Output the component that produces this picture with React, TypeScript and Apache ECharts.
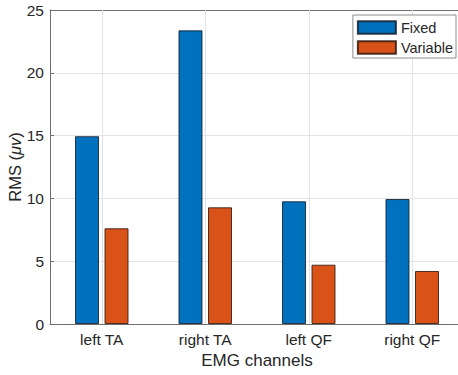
import React, { useEffect, useRef } from "react";
import * as echarts from "echarts";

const categories = ["left TA", "right TA", "left QF", "right QF"];
const fixedValues = [14.95, 23.38, 9.77, 9.95];
const variableValues = [7.62, 9.29, 4.72, 4.22];
const seriesNames = ["Fixed", "Variable"];

const FONT = "'Liberation Sans', Arial, Helvetica, sans-serif";
const AXIS_COLOR = "#6e6e6e";
const TEXT_COLOR = "#262626";
const GRID_COLOR = "#e3e3e3";

export default function App() {
  const ref = useRef<HTMLDivElement>(null);
  useEffect(() => {
    if (!ref.current) return;
    const chart = echarts.init(ref.current, undefined, { renderer: "svg" });
    chart.setOption({
      animation: false,
      textStyle: { fontFamily: FONT },
      grid: { left: 50, top: 10, bottom: 51, width: 414, containLabel: false, outerBoundsMode: "none" },
      legend: {
        orient: "vertical",
        right: 2,
        top: 15,
        padding: [5, 3, 3, 4],
        itemWidth: 38,
        itemHeight: 12.5,
        itemGap: 5,
        icon: "rect",
        borderColor: "#8c8c8c",
        borderWidth: 1,
        backgroundColor: "#ffffff",
        borderRadius: 0,
        textStyle: { fontSize: 14.5, color: TEXT_COLOR, fontFamily: FONT },
        data: seriesNames,
      },
      xAxis: [
        {
          type: "category",
          data: categories,
          position: "bottom",
          name: "EMG channels",
          nameLocation: "middle",
          nameGap: 28,
          nameMoveOverlap: false,
          nameTextStyle: { fontSize: 17, color: TEXT_COLOR, fontFamily: FONT },
          axisLine: { show: true, lineStyle: { color: AXIS_COLOR, width: 1 } },
          axisTick: { show: true, inside: true, alignWithLabel: true, length: 4, lineStyle: { color: AXIS_COLOR } },
          axisLabel: { fontSize: 15.5, color: TEXT_COLOR, margin: 7, fontFamily: FONT },
          splitLine: { show: false },
        },
        {
          type: "category",
          data: categories,
          position: "top",
          axisLine: { show: true, lineStyle: { color: AXIS_COLOR, width: 1 } },
          axisTick: { show: true, inside: true, alignWithLabel: true, length: 4, lineStyle: { color: AXIS_COLOR } },
          axisLabel: { show: false },
          splitLine: { show: false },
        },
      ],
      yAxis: {
        type: "value",
        min: 0,
        max: 25,
        interval: 5,
        name: "{n|RMS (}{i|μv}{n|)}",
        nameLocation: "middle",
        nameGap: 27,
        nameMoveOverlap: false,
        nameTextStyle: {
          rich: {
            n: { fontSize: 16.5, color: TEXT_COLOR, fontFamily: FONT },
            i: { fontSize: 16.5, color: TEXT_COLOR, fontFamily: FONT, fontStyle: "italic" },
          },
        },
        axisLine: { show: true, lineStyle: { color: AXIS_COLOR, width: 1 } },
        axisTick: { show: true, inside: true, length: 4, lineStyle: { color: AXIS_COLOR } },
        axisLabel: { fontSize: 15.5, color: TEXT_COLOR, margin: 6, fontFamily: FONT },
        splitLine: { show: true, lineStyle: { color: GRID_COLOR, width: 1 } },
      },
      series: [
        {
          name: "categoryGrid",
          type: "custom",
          z: 1,
          silent: true,
          data: categories.map((c) => [c]),
          encode: { x: 0 },
          renderItem: (params: any, api: any) => {
            const cs = params.coordSys;
            const x = Math.round(api.coord([api.value(0), 0])[0]) + 0.5;
            return {
              type: "line",
              shape: { x1: x, y1: cs.y, x2: x, y2: cs.y + cs.height },
              style: { stroke: GRID_COLOR, lineWidth: 1 },
            };
          },
        },
        {
          name: seriesNames[0],
          type: "bar",
          data: fixedValues,
          barWidth: 24,
          barGap: "23%",
          z: 3,
          itemStyle: { color: "#0072BD", borderColor: "rgba(20,30,45,0.85)", borderWidth: 1 },
        },
        {
          name: seriesNames[1],
          type: "bar",
          data: variableValues,
          barWidth: 24,
          barGap: "23%",
          z: 3,
          itemStyle: { color: "#D95319", borderColor: "rgba(50,25,15,0.85)", borderWidth: 1 },
        },
      ],
    });
    return () => chart.dispose();
  }, []);
  return (
    <div
      ref={ref}
      style={{ position: "fixed", left: 0, top: 0, width: 458, height: 375, background: "#ffffff" }}
    />
  );
}
